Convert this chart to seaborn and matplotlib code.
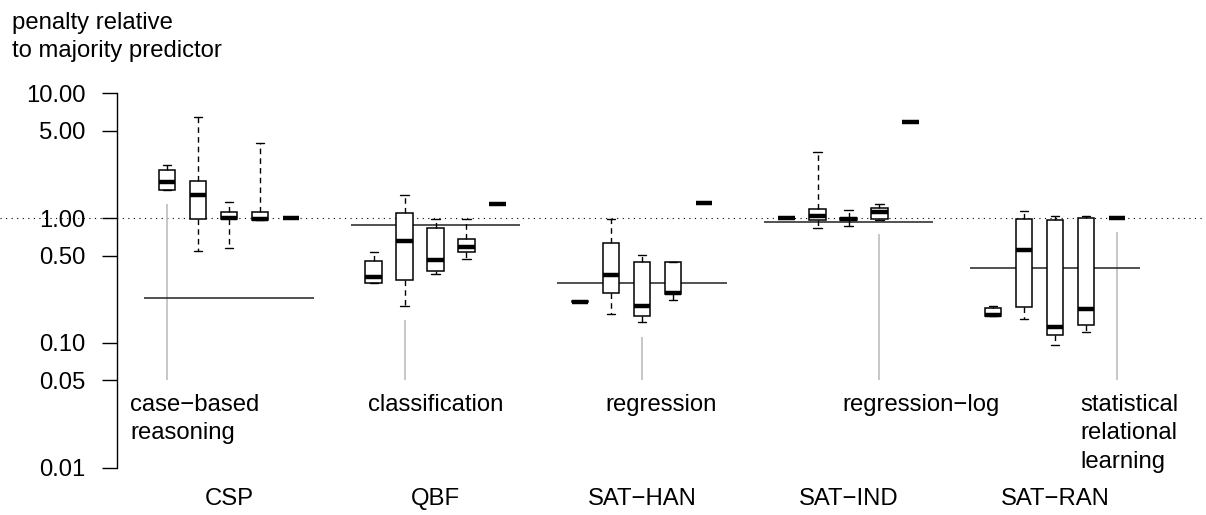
import numpy as np
import pandas as pd
import matplotlib
matplotlib.use('Agg')
import matplotlib.pyplot as plt
import seaborn as sns
from matplotlib.ticker import NullLocator
from matplotlib.transforms import blended_transform_factory

# scenarios on the x axis, approaches as the boxes inside each scenario
groups = ['CSP', 'QBF', 'SAT\u2212HAN', 'SAT\u2212IND', 'SAT\u2212RAN']
methods = ['case\u2212based\nreasoning', 'classification', 'regression',
           'regression\u2212log', 'statistical\nrelational\nlearning']

# five-number summaries (low whisker, q1, median, q3, high whisker) per scenario
case_based = [[1.69, 1.69, 1.94, 2.42, 2.66],
              [0.30, 0.30, 0.335, 0.452, 0.538],
              [0.211, 0.211, 0.214, 0.217, 0.217],
              [1.0, 1.0, 1.0, 1.0, 1.0],
              [0.163, 0.163, 0.168, 0.19, 0.199]]
classification = [[0.541, 0.99, 1.52, 1.99, 6.45],
                  [0.199, 0.321, 0.659, 1.105, 1.54],
                  [0.170, 0.249, 0.347, 0.635, 0.98],
                  [0.827, 0.97, 1.03, 1.19, 3.38],
                  [0.155, 0.195, 0.558, 0.98, 1.15]]
regression = [[0.575, 0.98, 1.0, 1.12, 1.34],
              [0.356, 0.374, 0.464, 0.827, 0.98],
              [0.146, 0.165, 0.196, 0.447, 0.509],
              [0.858, 0.96, 0.99, 1.01, 1.17],
              [0.0968, 0.115, 0.133, 0.964, 1.045]]
regression_log = [[0.965, 0.965, 0.99, 1.12, 3.99],
                  [0.469, 0.531, 0.586, 0.679, 0.98],
                  [0.220, 0.246, 0.251, 0.442, 0.442],
                  [0.97, 0.976, 1.11, 1.196, 1.29],
                  [0.122, 0.139, 0.188, 1.0, 1.04]]
srl = [[1.0] * 5, [1.30] * 5, [1.33] * 5, [5.92] * 5, [1.0] * 5]

# horizontal reference line per scenario
best_line = [0.227, 0.874, 0.30, 0.924, 0.395]

yticks = [0.01, 0.05, 0.1, 0.5, 1, 5, 10]

summaries = [case_based, classification, regression, regression_log, srl]
rows = []
for m, per_group in zip(methods, summaries):
    for g, vals in zip(groups, per_group):
        for v in vals:
            rows.append({'group': g, 'method': m, 'value': v})
df = pd.DataFrame(rows)

sns.set_theme(style='white')
plt.rcParams['font.family'] = ['Liberation Sans', 'DejaVu Sans']
plt.rcParams['text.color'] = 'black'
plt.rcParams['xtick.color'] = 'black'
plt.rcParams['ytick.color'] = 'black'
FS = 17.2

fig = plt.figure(figsize=(12.06, 5.15), dpi=100)
ax = fig.add_axes([0, (515 - 467.7) / 515, 1, (467.7 - 93.3) / 515])

sns.boxplot(data=df, x='group', y='value', hue='method', order=groups,
            hue_order=methods, palette=['white'] * 5, linecolor='black',
            width=0.75, gap=0.48, whis=np.inf, log_scale=True, legend=False,
            linewidth=1.1, ax=ax,
            whiskerprops=dict(color='black', linestyle=(0, (4, 3)), linewidth=1),
            capprops=dict(color='black', linewidth=1),
            medianprops=dict(color='black', linewidth=3.2, solid_capstyle='butt'))

ax.set_ylim(0.01, 10)
ax.set_xlim(-229 / 206.5, 4 + 151 / 206.5)

# dotted line at 1 across the whole width
ax.axhline(1, color='black', lw=0.8, ls=(0, (1, 4)), zorder=0)

centers = np.arange(len(groups))
ax.hlines(best_line, centers - 0.41, centers + 0.41, color='#222222', lw=1.1, zorder=1)

# grey pointer lines and method labels
slot = 0.75 / len(methods)
trans = blended_transform_factory(ax.transData, fig.transFigure)
for i, (m, per_group) in enumerate(zip(methods, summaries)):
    xpos = i + (i - 2) * slot
    top = min(per_group[i]) / 1.3
    ax.vlines(xpos, 0.05, top, color='#BEBEBE', lw=1.2, zorder=0)
    ax.text(xpos - 0.179, 1 - 394 / 515, m, transform=trans, ha='left', va='top',
            fontsize=FS, linespacing=1.38, color='black')

for side in ['top', 'right', 'bottom']:
    ax.spines[side].set_visible(False)
ax.spines['left'].set_position(('data', -112 / 206.5))
ax.spines['left'].set_bounds(0.01, 10)
ax.spines['left'].set_color('black')
ax.spines['left'].set_linewidth(1)

ax.set_yticks(yticks)
ax.set_yticklabels([f'{t:.2f}' for t in yticks])
ax.yaxis.set_minor_locator(NullLocator())
ax.tick_params(axis='y', direction='out', length=10.8, width=1, color='black',
               pad=12, labelsize=FS, left=True, labelcolor='black')
ax.tick_params(axis='x', length=0, pad=14.5, labelsize=FS, labelcolor='black')
ax.set_xlabel('')
ax.set_ylabel('')

fig.text(11.5 / 1206, 1 - 12 / 515, 'penalty relative\nto majority predictor',
         ha='left', va='top', fontsize=FS, linespacing=1.36)

fig.savefig('out.png', dpi=100)
